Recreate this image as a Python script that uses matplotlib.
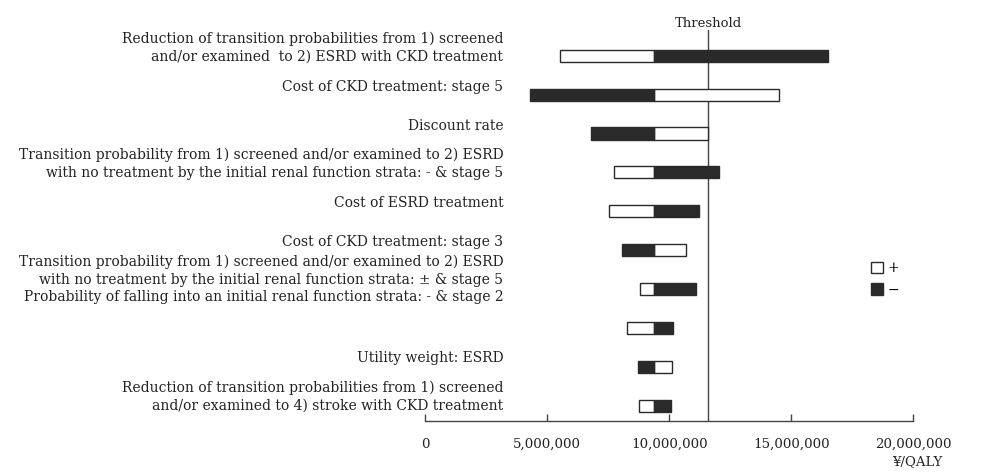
import matplotlib
matplotlib.use("Agg")
import matplotlib.pyplot as plt
from matplotlib.patches import Patch
from matplotlib.ticker import FuncFormatter

# Tornado diagram: one-way sensitivity of the ICER (yen per QALY)
parameters = [
    "Reduction of transition probabilities from 1) screened\nand/or examined  to 2) ESRD with CKD treatment",
    "Cost of CKD treatment: stage 5",
    "Discount rate",
    "Transition probability from 1) screened and/or examined to 2) ESRD\nwith no treatment by the initial renal function strata: - & stage 5",
    "Cost of ESRD treatment",
    "Cost of CKD treatment: stage 3",
    "Transition probability from 1) screened and/or examined to 2) ESRD\nwith no treatment by the initial renal function strata: \u00b1 & stage 5",
    "Probability of falling into an initial renal function strata: - & stage 2",
    "Utility weight: ESRD",
    "Reduction of transition probabilities from 1) screened\nand/or examined to 4) stroke with CKD treatment",
]
base_icer = 9.38e6
plus_icer = [5.52e6, 14.49e6, 11.60e6, 7.74e6, 7.52e6, 10.70e6, 8.80e6, 8.28e6, 10.11e6, 8.75e6]
minus_icer = [16.50e6, 4.30e6, 6.81e6, 12.03e6, 11.23e6, 8.08e6, 11.09e6, 10.16e6, 8.72e6, 10.06e6]
threshold = 11.6e6
x_ticks = [0, 5e6, 10e6, 15e6, 20e6]

# label vertical shift (in rows) relative to each bar
label_shift = [-0.21, -0.19, -0.18, -0.22, -0.21, -0.21, -0.47, -0.81, -0.22, -0.23]

text_color = "#222222"
dark = "#2a2a2a"
serif = ["DejaVu Serif"]
fs = 10

fig = plt.figure(figsize=(10, 4.73), dpi=100)
fig.patch.set_facecolor("white")
ax = fig.add_axes([0.425, 0.1099, 0.4883, 0.8267])

rows = list(range(len(parameters)))
bar_h = 0.31
for i in rows:
    pv, mv = plus_icer[i], minus_icer[i]
    ax.barh(i, abs(pv - base_icer), left=min(pv, base_icer), height=bar_h,
            color="white", edgecolor=dark, linewidth=1.0, zorder=3)
    ax.barh(i, abs(mv - base_icer), left=min(mv, base_icer), height=bar_h,
            color=dark, edgecolor=dark, linewidth=1.0, zorder=3)

ax.axvline(threshold, color="#444444", linewidth=1.0, zorder=2)

ax.set_xlim(0, 20e6)
ax.set_ylim(9.39, -0.66)
ax.set_xticks(x_ticks)
ax.xaxis.set_major_formatter(FuncFormatter(lambda v, p: f"{int(v):,}"))
ax.tick_params(axis="x", direction="in", length=5, width=1.0, color="#444444",
               labelsize=9.6, labelcolor=text_color, pad=12)
for lab in ax.get_xticklabels():
    lab.set_family(serif)
ax.set_yticks([])
for side in ("top", "right", "left"):
    ax.spines[side].set_visible(False)
ax.spines["bottom"].set_color("#444444")
ax.spines["bottom"].set_linewidth(1.0)

# parameter labels, right-aligned just past the zero line
for i, name in enumerate(parameters):
    ax.text(0.16, i + label_shift[i], name, transform=ax.get_yaxis_transform(),
            ha="right", va="center", fontsize=fs, family=serif, color=text_color,
            multialignment="right", linespacing=1.3)

ax.text(threshold, -0.66, "Threshold", ha="center", va="bottom", fontsize=9.5,
        family=serif, color=text_color)
fig.text(0.942, 0.024, "\u00a5/QALY", ha="right", va="center", fontsize=9.5,
         family=serif, color=text_color)

handles = [Patch(facecolor="white", edgecolor=dark, linewidth=1.0, label="+"),
           Patch(facecolor=dark, edgecolor=dark, linewidth=1.0, label="\u2212")]
fig.legend(handles=handles, loc="center left", bbox_to_anchor=(0.858, 0.41),
           frameon=False, handlelength=0.9, handleheight=0.9, handletextpad=0.35,
           labelspacing=0.55, prop={"family": serif, "size": 10})

fig.savefig("out.png", dpi=100)
